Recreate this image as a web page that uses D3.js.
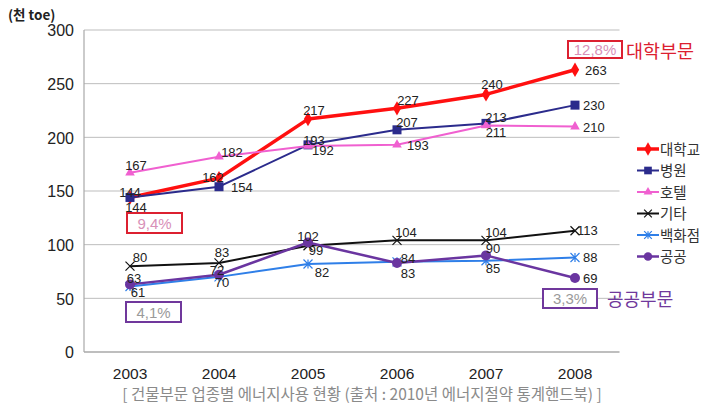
<!DOCTYPE html>
<html><head><meta charset="utf-8">
<script src="https://cdn.jsdelivr.net/npm/d3@7"></script>
<style>
html,body{margin:0;padding:0;background:#fff;}
svg{display:block;}
</style></head>
<body>
<svg id="c" width="703" height="406"></svg>
<script>
// ---- data ----
const years = ["2003","2004","2005","2006","2007","2008"];
const seriesNames = ["대학교","병원","호텔","기타","백화점","공공"];
const university = [144,162,217,227,240,263];
const hospital   = [144,154,193,207,213,230];
const hotel      = [167,182,192,193,211,210];
const others     = [80,83,99,104,104,113];
const deptStore  = [61,70,82,84,85,88];
const publicSec  = [63,72,102,83,90,69];
const yTicks = [0,50,100,150,200,250,300];
const yTitle = "(천 toe)";
const caption = "[ 건물부문 업종별 에너지사용 현황 (출처 : 2010년 에너지절약 통계핸드북) ]";

// ---- label layout (dx, dy, anchor) per series/point ----
const M="middle", S="start";
const labelLayout = [
  [[0,0,M],[-6,4,M],[6,-4,M],[11,-3,M],[6,-5,M],[10,5,S]],
  [[6,15,M],[12,5,S],[6,0,M],[10,-3,M],[10,-1,M],[8,5,S]],
  [[6,-3,M],[13,0,M],[4,9,S],[10,5,S],[10,11,M],[8,5,S]],
  [[10,-4,M],[3,-6,M],[8,9,M],[9,-3,M],[10,-3,M],[2,4,S]],
  [[8,10,M],[3,10,M],[14,13,M],[11,1,M],[7,12,M],[8,4,S]],
  [[4,-1,M],[-2,0,M],[0,-2,M],[11,15,M],[7,-2,M],[8,5,S]]
];

const values = [university,hospital,hotel,others,deptStore,publicSec];
const colors = ["#ff1010","#2b2b8c","#f060d0","#111111","#2f7fe8","#6a35a0"];
const widths = [3.5,2,2,2,2,2.5];
const markers = ["diamond","square","triangle","x","asterisk","circle"];

const svg = d3.select("#c");
const x = d3.scaleBand().domain(years).range([85.5,619.5]);
const cx = d => x(d) + x.bandwidth()/2;
const y = d3.scaleLinear().domain([0,300]).range([352,30]);

const numFont = "'Liberation Sans', Arial, sans-serif";
const krFont = "'Noto Sans CJK KR', 'Liberation Sans', sans-serif";

// gridlines
svg.append("g").selectAll("line").data(yTicks.filter(t=>t>0)).join("line")
  .attr("x1",84).attr("x2",619.5).attr("y1",d=>y(d)).attr("y2",d=>y(d))
  .attr("stroke","#bdbdbd").attr("stroke-width",1);
// axes lines
svg.append("line").attr("x1",84).attr("x2",84).attr("y1",y(300)).attr("y2",y(0)).attr("stroke","#a8a8a8").attr("stroke-width",1.2);
svg.append("line").attr("x1",84).attr("x2",619.5).attr("y1",y(0)).attr("y2",y(0)).attr("stroke","#a8a8a8").attr("stroke-width",1.5);

// y axis labels
const yAxis = d3.axisLeft(y).tickValues(yTicks).tickSize(0).tickPadding(10);
const yg = svg.append("g").attr("transform","translate(84,0)").call(yAxis);
yg.select(".domain").remove();
yg.selectAll("text").attr("font-family",numFont).attr("font-size",16).attr("fill","#222").attr("dy","0.36em");

// x axis labels
const xAxis = d3.axisBottom(x).tickSize(0).tickPadding(18);
const xg = svg.append("g").attr("transform","translate(0,352)").call(xAxis);
xg.select(".domain").remove();
xg.selectAll("text").attr("font-family",numFont).attr("font-size",15.5).attr("fill","#222").attr("dy","0.6em");

// y title
svg.append("text").attr("x",8).attr("y",20).text(yTitle)
  .attr("font-family",krFont).attr("font-size",13.5).attr("font-weight","bold").attr("fill","#222");

// marker drawer
function drawMarker(g, type, px, py, color, scale){
  const s = scale||1;
  if(type==="diamond"){
    g.append("path").attr("d",d3.symbol(d3.symbolDiamond,60*s)()).attr("transform",`translate(${px},${py})`).attr("fill",color);
  } else if(type==="square"){
    g.append("rect").attr("x",px-4.5*s).attr("y",py-4.5*s).attr("width",9*s).attr("height",9*s).attr("fill",color);
  } else if(type==="triangle"){
    g.append("path").attr("d",d3.symbol(d3.symbolTriangle,40*s)()).attr("transform",`translate(${px},${py})`).attr("fill",color);
  } else if(type==="x"){
    const r=4.5*s;
    g.append("path").attr("d",`M${px-r},${py-r}L${px+r},${py+r}M${px-r},${py+r}L${px+r},${py-r}`).attr("stroke",color).attr("stroke-width",1.2).attr("fill","none");
  } else if(type==="asterisk"){
    const r=4.5*s;
    g.append("path").attr("d",`M${px-r},${py-r}L${px+r},${py+r}M${px-r},${py+r}L${px+r},${py-r}M${px},${py-r}L${px},${py+r}`).attr("stroke",color).attr("stroke-width",1.2).attr("fill","none");
  } else if(type==="circle"){
    g.append("circle").attr("cx",px).attr("cy",py).attr("r",5*s).attr("fill",color);
  }
}

// series
const line = d3.line().x(d=>cx(d[0])).y(d=>y(d[1]));
values.forEach((vals,i)=>{
  const g = svg.append("g");
  const pts = years.map((yr,j)=>[yr,vals[j]]);
  g.append("path").attr("d",line(pts)).attr("fill","none").attr("stroke",colors[i]).attr("stroke-width",widths[i]).attr("stroke-linejoin","round");
  pts.forEach(p=>drawMarker(g,markers[i],cx(p[0]),y(p[1]),colors[i]));
});
// labels
values.forEach((vals,i)=>{
  svg.append("g").selectAll("text").data(vals).join("text")
    .attr("x",(d,j)=>cx(years[j])+labelLayout[i][j][0])
    .attr("y",(d,j)=>y(d)+labelLayout[i][j][1])
    .attr("text-anchor",(d,j)=>labelLayout[i][j][2])
    .attr("font-family",numFont).attr("font-size",13).attr("fill","#222")
    .text(d=>d);
});

// legend
const lg = svg.append("g");
seriesNames.forEach((n,i)=>{
  const ly = 149 + i*21.5;
  lg.append("line").attr("x1",637).attr("x2",659).attr("y1",ly).attr("y2",ly).attr("stroke",colors[i]).attr("stroke-width",widths[i]);
  drawMarker(lg,markers[i],648,ly,colors[i],0.85);
  lg.append("text").attr("x",660).attr("y",ly+5.5).text(n)
    .attr("font-family",krFont).attr("font-size",14.5).attr("fill","#333");
});

// annotations
const annRed="#dc2030", annPurple="#70389c";
const annotations = [
  {t:"12,8%", x:568, y:41, w:54, h:17, stroke:annRed, fill:"#d890b8"},
  {t:"9,4%",  x:127, y:213, w:55, h:20, stroke:annRed, fill:"#d890b8"},
  {t:"4,1%",  x:126, y:302, w:55, h:20, stroke:annPurple, fill:"#9a9a9a"},
  {t:"3,3%",  x:543, y:289, w:54, h:19, stroke:annPurple, fill:"#9a9a9a"}
];
annotations.forEach(a=>{
  svg.append("rect").attr("x",a.x).attr("y",a.y).attr("width",a.w).attr("height",a.h)
    .attr("fill","#fff").attr("stroke",a.stroke).attr("stroke-width",2);
  svg.append("text").attr("x",a.x+a.w/2).attr("y",a.y+a.h/2+5.5).attr("text-anchor","middle")
    .attr("font-family",numFont).attr("font-size",15).attr("fill",a.fill).text(a.t);
});
svg.append("text").attr("x",626).attr("y",58).text("대학부문")
  .attr("font-family",krFont).attr("font-size",18.5).attr("fill",annRed);
svg.append("text").attr("x",607).attr("y",306).text("공공부문")
  .attr("font-family",krFont).attr("font-size",18).attr("fill",annPurple);

// caption
svg.append("text").attr("x",362).attr("y",400).attr("text-anchor","middle").text(caption)
  .attr("font-family",krFont).attr("font-size",15.5).attr("fill","#8a8a8a");
</script>
</body></html>
